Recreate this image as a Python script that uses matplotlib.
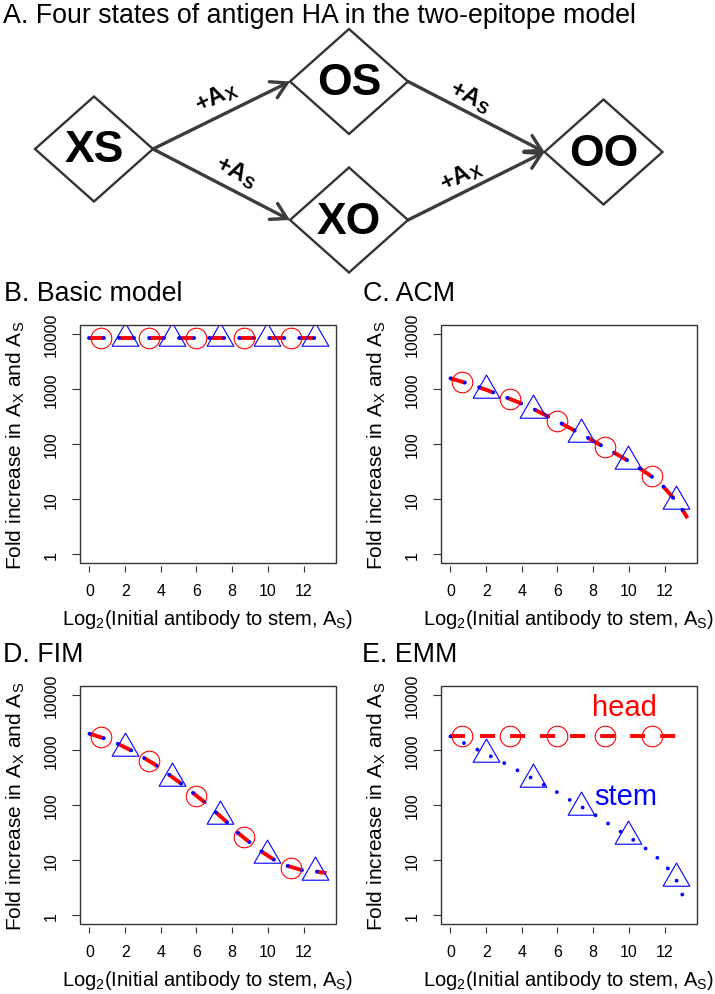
import numpy as np
import matplotlib
matplotlib.use("Agg")
import matplotlib.pyplot as plt
from matplotlib.patches import Polygon, FancyArrowPatch, Rectangle
from matplotlib.path import Path

plt.rcParams['font.family'] = ['Liberation Sans', 'DejaVu Sans']
plt.rcParams['mathtext.fontset'] = 'custom'
plt.rcParams['mathtext.rm'] = 'Liberation Sans'
plt.rcParams['mathtext.it'] = 'Liberation Sans:italic'
plt.rcParams['mathtext.bf'] = 'Liberation Sans:bold'

W, H, DPI = 715, 995, 100

# ------------------------------------------------------------------ data
states = ["XS", "OS", "XO", "OO"]
transitions = [("XS", "OS", "X"), ("XS", "XO", "S"), ("OS", "OO", "S"), ("XO", "OO", "X")]

x_max = 13.29
xticks = [0, 2, 4, 6, 8, 10, 12]
ytick_vals = [1, 10, 100, 1000, 10000]
ytick_labels = ["1", "10", "100", "1000", "10000"]

head_marker_x = [0.66, 3.32, 5.98, 8.64, 11.30]
stem_marker_x = [1.99, 4.65, 7.31, 9.97, 12.62]

# B. Basic model
basic_x = [0.0, 13.29]
basic_head = [8470, 8470]
basic_stem = [8470, 8470]
basic_head_mk = [8470, 8470, 8470, 8470, 8470]
basic_stem_mk = [8470, 8470, 8470, 8470, 8470]

# C. ACM
acm_x = [0, 0.80, 1.59, 2.41, 3.13, 3.97, 4.68, 5.47, 6.21, 6.92, 7.71,
         8.41, 9.16, 9.91, 10.60, 11.29, 11.90, 12.46, 13.02, 13.29]
acm_head = [1556, 1303, 1072, 861, 700, 543, 427, 316, 237, 178, 129,
            96, 70, 50.7, 36.3, 25.6, 17.4, 10.8, 6.3, 4.5]
acm_stem = [1556, 1303, 1072, 861, 700, 543, 427, 316, 237, 178, 129,
            96, 70, 50.7, 36.3, 25.6, 17.4, 10.8, 6.3, 4.5]
acm_head_mk = [1352, 668, 258, 87, 25.8]
acm_stem_mk = [960, 415, 151, 49.5, 9.4]

# D. FIM
fim_x = [0, 0.82, 1.57, 2.37, 3.06, 3.80, 4.45, 5.16, 5.78, 6.47, 7.06,
         7.73, 8.29, 8.98, 9.63, 10.34, 11.07, 11.89, 12.71, 13.29]
fim_head = [1968, 1622, 1298, 969, 714, 512, 357, 242, 168, 111, 75,
            48, 31.8, 21, 14.4, 10.2, 7.9, 6.6, 6.2, 5.8]
fim_stem = [1968, 1622, 1298, 969, 714, 512, 357, 242, 168, 111, 75,
            48, 31.8, 21, 14.4, 10.2, 7.9, 6.6, 6.2, 5.8]
fim_head_mk = [1690, 620, 145, 25.8, 7.3]
fim_stem_mk = [1100, 315, 64, 12.3, 6.2]

# E. EMM
emm_head_x = [0.0, 13.29]
emm_head = [1760, 1760]
emm_stem_x = [0, 0.75, 1.51, 2.26, 3.00, 3.75, 4.50, 5.24, 5.97, 6.68, 7.41,
              8.12, 8.84, 9.53, 10.24, 10.93, 11.59, 12.18, 12.67, 12.99, 13.29]
emm_stem = [1760, 1334, 1011, 766, 580, 427, 315, 232, 171, 124, 90,
            65.5, 46, 33, 23.4, 16.3, 11.1, 7.1, 4.3, 2.4, 1.6]
emm_head_mk = [1760, 1760, 1760, 1760, 1760]
emm_stem_mk = [843, 294, 93, 27.7, 4.8]

# ------------------------------------------------------------------ figure
fig = plt.figure(figsize=(W / DPI, H / DPI), dpi=DPI)
over = fig.add_axes([0, 0, 1, 1])
over.set_xlim(0, W)
over.set_ylim(H, 0)
over.axis('off')

EDGE = '#333333'
ARROW = '#3c3c3c'

# ---- panel A: state diagram
over.text(3, 22.7, "A. Four states of antigen HA in the two-epitope model",
          fontsize=19.3, ha='left', va='baseline')

centers = {"XS": (94, 150), "OS": (349, 82.5), "XO": (349, 221), "OO": (603.5, 153)}
hw, hh = 59, 52.5
for s in states:
    cx, cy = centers[s]
    poly = Polygon([(cx - hw, cy), (cx, cy - hh), (cx + hw, cy), (cx, cy + hh)],
                   closed=True, fc='white', ec=EDGE, lw=1.7, zorder=3)
    over.add_patch(poly)
    over.text(cx, cy + 1, s, fontsize=32, fontweight='bold', ha='center',
              va='center', zorder=4)

label_pos = {("XS", "OS"): (216.5, 97.5), ("XS", "XO"): (236, 172),
             ("OS", "OO"): (470, 97), ("XO", "OO"): (461, 176)}
for a, b, sub in transitions:
    ax0, ay0 = centers[a]
    bx0, by0 = centers[b]
    p0 = (ax0 + hw, ay0)
    p1 = (bx0 - hw, by0)
    arr = FancyArrowPatch(p0, p1, arrowstyle='->,head_length=0.55,head_width=0.32',
                          mutation_scale=20, lw=2.4, color=ARROW,
                          shrinkA=0, shrinkB=0, zorder=2, capstyle='round',
                          joinstyle='miter')
    over.add_patch(arr)
    ang = np.degrees(np.arctan2(-(p1[1] - p0[1]), p1[0] - p0[0]))
    lx, ly = label_pos[(a, b)]
    over.text(lx, ly, r"+A$_\mathbf{%s}$" % sub, fontsize=17, fontweight='bold',
              rotation=ang, rotation_mode='anchor', ha='center', va='center',
              zorder=4)

# ---- plot panels
tri = Path([(0, 1.5551), (1.3468, -0.7776), (-1.3468, -0.7776), (0, 1.5551)],
           [Path.MOVETO, Path.LINETO, Path.LINETO, Path.CLOSEPOLY])
LW = 2.8
UNIT = 3.86


def rect_px(left, top, right, bottom):
    return [left / W, 1 - bottom / H, (right - left) / W, (bottom - top) / H]


def panel(rect, title, tpos, hx, hy, sx, sy, hmk, smk):
    ax = fig.add_axes(rect)
    ax.set_yscale('log')
    ax.set_ylim(10 ** -0.16, 10 ** 4.16)
    ax.set_xlim(-0.04 * x_max, 1.04 * x_max)
    ax.plot(hx, hy, color='#ff0000', lw=LW, linestyle=(0, (UNIT, UNIT)),
            dash_capstyle='butt', zorder=2)
    ax.plot(sx, sy, color='#0000ff', lw=LW, linestyle=(0, (0.001, UNIT)),
            dash_capstyle='round', zorder=3)
    ax.plot(head_marker_x, hmk, ls='none', marker='o', ms=14.8, mfc='none',
            mec='#ff0000', mew=0.8, zorder=4)
    ax.plot(stem_marker_x, smk, ls='none', marker=tri, ms=22.2, mfc='none',
            mec='#0000ff', mew=0.8, zorder=4)
    for sp in ax.spines.values():
        sp.set_color('none')
    ax.spines['bottom'].set_position(('outward', 2.2))
    ax.add_patch(Rectangle((0, 0), 1, 1, transform=ax.transAxes, fill=False,
                           ec=EDGE, lw=1.0, clip_on=False, zorder=5))
    ax.minorticks_off()
    ax.set_yticks(ytick_vals)
    ax.set_yticklabels(ytick_labels)
    ax.yaxis.set_minor_locator(matplotlib.ticker.NullLocator())
    ax.set_xticks(xticks)
    ax.set_xticklabels([str(t) for t in xticks])
    ax.tick_params(axis='x', direction='out', length=4.3, width=0.8, color=EDGE,
                   pad=8.2, labelsize=11.5)
    ax.tick_params(axis='y', direction='out', length=5.8, width=0.8, color=EDGE,
                   pad=9.5, labelsize=11.5, labelrotation=90)
    for lab in ax.get_yticklabels():
        lab.set_va('center')
    ax.text(-0.25, 0.5, r"Fold increase in A$_\mathregular{X}$ and A$_\mathregular{S}$",
            rotation=90, ha='center', va='center', transform=ax.transAxes,
            fontsize=15)
    ax.text(0.5, -0.235, r"Log$_\mathregular{2}$(Initial antibody to stem, A$_\mathregular{S}$)",
            ha='center', va='center', transform=ax.transAxes, fontsize=14.5)
    over.text(tpos[0], tpos[1], title, fontsize=19.3, ha='left', va='baseline')
    return ax


panel(rect_px(80, 326, 336, 564), "B. Basic model", (4, 301),
      basic_x, basic_head, basic_x, basic_stem, basic_head_mk, basic_stem_mk)
panel(rect_px(441, 326, 697, 564), "C. ACM", (363, 301),
      acm_x, acm_head, acm_x, acm_stem, acm_head_mk, acm_stem_mk)
panel(rect_px(80, 687, 336, 925), "D. FIM", (3, 662),
      fim_x, fim_head, fim_x, fim_stem, fim_head_mk, fim_stem_mk)
axE = panel(rect_px(441, 687, 697, 925), "E. EMM", (362, 662),
            emm_head_x, emm_head, emm_stem_x, emm_stem, emm_head_mk, emm_stem_mk)

axE.text(9.75, 6030, "head", color='#ff0000', fontsize=21, ha='center', va='center')
axE.text(9.8, 148, "stem", color='#0000ff', fontsize=21, ha='center', va='center')

fig.savefig("out.png", dpi=DPI)
